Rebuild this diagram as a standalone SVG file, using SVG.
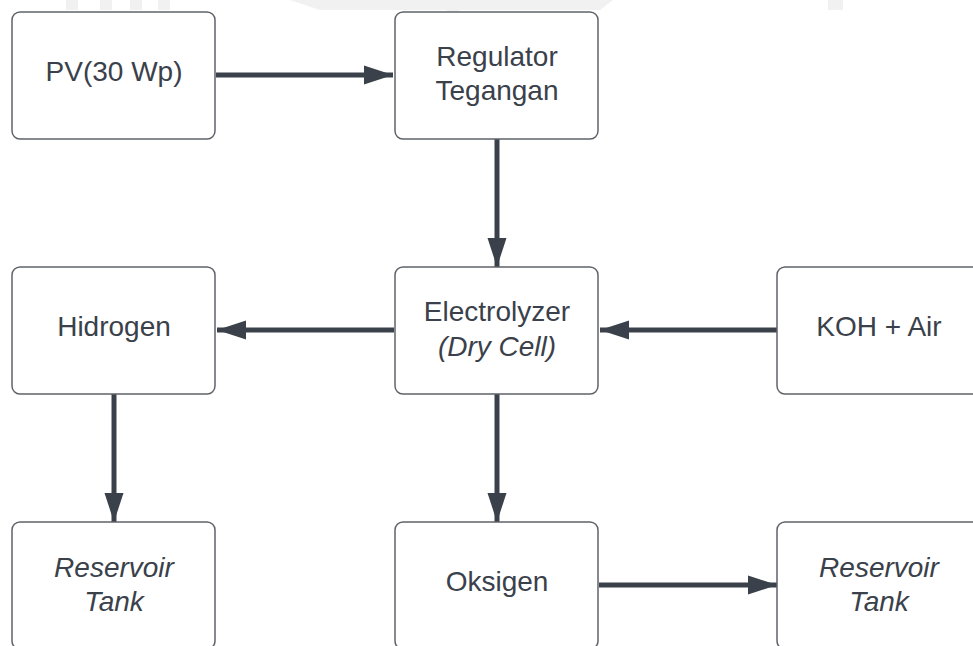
<svg xmlns="http://www.w3.org/2000/svg" width="973" height="646" viewBox="0 0 973 646">
<style>
.box{fill:#ffffff;stroke:#5f6369;stroke-width:1.5}
.t{font-family:"Liberation Sans",Arial,sans-serif;font-size:28px;fill:#3a414a;text-anchor:middle}
.i{font-style:italic}
.c{stroke:#3a414a;stroke-width:5;fill:none}
.wm{fill:#f1f1f1}
</style>
<defs>
<marker id="ah" markerUnits="userSpaceOnUse" markerWidth="32" markerHeight="20" refX="29" refY="10" orient="auto">
<path d="M0,0.5 L29,10 L0,19.5 z" fill="#3a414a"/>
</marker>
</defs>
<rect width="973" height="646" fill="#ffffff"/>
<g id="watermark">
<rect class="wm" x="66" y="0" width="12" height="10"/>
<rect class="wm" x="100" y="0" width="12" height="10"/>
<rect class="wm" x="130" y="0" width="12" height="10"/>
<rect class="wm" x="158" y="0" width="12" height="10"/>
<path class="wm" d="M290,0 L613,0 L600,10 L460,10 L453,15 L446,10 L320,10 Z"/>
<rect class="wm" x="828" y="0" width="15" height="10"/>
</g>
<g id="connectors">
<line class="c" x1="216" y1="75" x2="393" y2="75" marker-end="url(#ah)"/>
<line class="c" x1="497" y1="139" x2="497" y2="267" marker-end="url(#ah)"/>
<line class="c" x1="394" y1="330" x2="217" y2="330" marker-end="url(#ah)"/>
<line class="c" x1="777" y1="330" x2="600" y2="330" marker-end="url(#ah)"/>
<line class="c" x1="114" y1="394" x2="114" y2="522" marker-end="url(#ah)"/>
<line class="c" x1="497" y1="394" x2="497" y2="522" marker-end="url(#ah)"/>
<line class="c" x1="599" y1="585" x2="777" y2="585" marker-end="url(#ah)"/>
</g>
<g id="pv"><rect class="box" x="12" y="12" width="203" height="127" rx="8"/><text class="t" x="114" y="81">PV(30 Wp)</text></g>
<g id="regulator"><rect class="box" x="395" y="12" width="203" height="127" rx="8"/><text class="t" x="497" y="66">Regulator</text><text class="t" x="497" y="100">Tegangan</text></g>
<g id="hidrogen"><rect class="box" x="12" y="267" width="203" height="127" rx="8"/><text class="t" x="114" y="336">Hidrogen</text></g>
<g id="electrolyzer"><rect class="box" x="395" y="267" width="203" height="127" rx="8"/><text class="t" x="497" y="321">Electrolyzer</text><text class="t i" x="497" y="356">(Dry Cell)</text></g>
<g id="koh"><rect class="box" x="777" y="267" width="203" height="127" rx="8"/><text class="t" x="879" y="336">KOH + Air</text></g>
<g id="reservoir1"><rect class="box" x="12" y="522" width="203" height="127" rx="8"/><text class="t i" x="114" y="577">Reservoir</text><text class="t i" x="114" y="611">Tank</text></g>
<g id="oksigen"><rect class="box" x="395" y="522" width="203" height="127" rx="8"/><text class="t" x="497" y="591">Oksigen</text></g>
<g id="reservoir2"><rect class="box" x="777" y="522" width="203" height="127" rx="8"/><text class="t i" x="879" y="577">Reservoir</text><text class="t i" x="879" y="611">Tank</text></g>
</svg>
